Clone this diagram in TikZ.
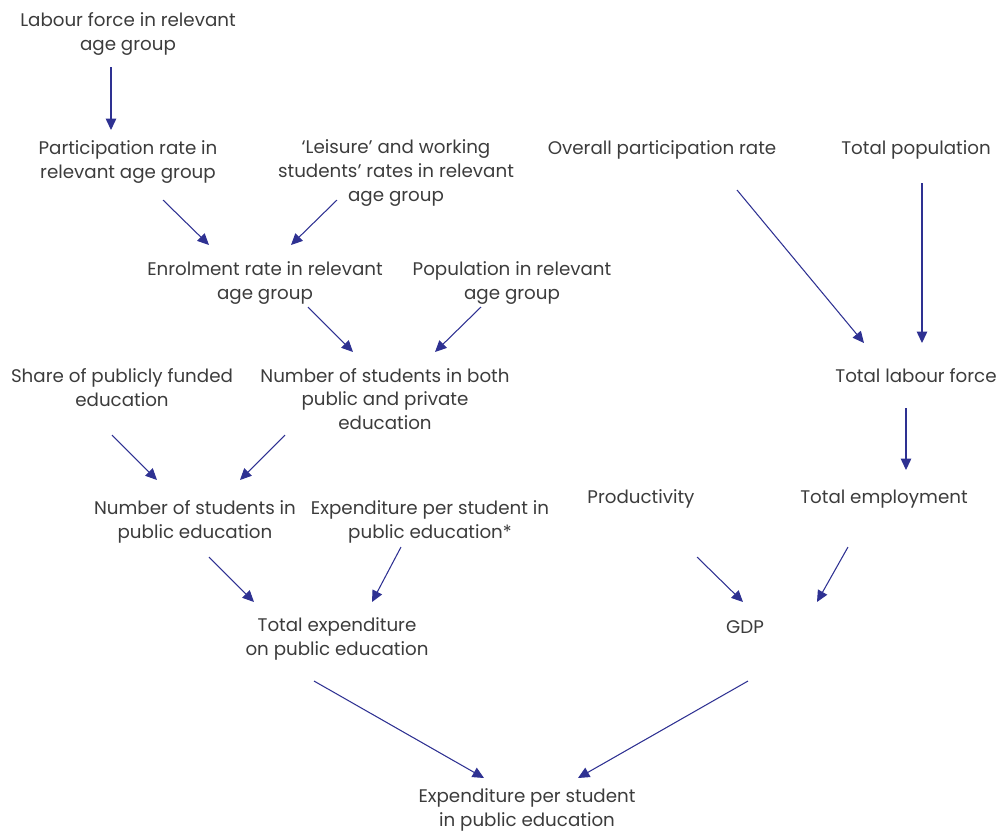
\documentclass[tikz,border=0pt]{standalone}
\usepackage{fontspec}
\setmainfont{Poppins}
\usetikzlibrary{arrows.meta, calc}
\definecolor{arrowblue}{RGB}{46,49,146}
\definecolor{textgray}{RGB}{60,60,60}

\begin{document}
\begin{tikzpicture}[x=0.02cm,y=-0.02cm,
    lbl/.style={align=center, text=textgray, inner sep=0pt,
        font=\fontsize{10.4}{13.6}\selectfont},
    arr/.style={draw=arrowblue, line width=0.6pt,
        -{Triangle[length=6.5pt,width=6pt]}}]
    \useasboundingbox (0,0) rectangle (998,833);

    % top of the enrolment branch
    \node[lbl] (labour) at (128,34) {Labour force in relevant\\age group};
    \node[lbl] (partic) at (128,162) {Participation rate in\\relevant age group};
    \node[lbl] (leisure) at (396,173) {`Leisure' and working\\students' rates in relevant\\age group};
    \node[lbl] (overall) at (662,150) {Overall participation rate};
    \node[lbl] (totpop) at (916,150) {Total population};

    \node[lbl] (enrol) at (265,283) {Enrolment rate in relevant\\age group};
    \node[lbl] (popage) at (512,283) {Population in relevant\\age group};

    \node[lbl] (share) at (122,388) {Share of publicly funded\\education};
    \node[lbl] (nboth) at (385,399) {Number of students in both\\public and private\\education};
    \node[lbl] (totlab) at (916,376) {Total labour force};

    \node[lbl] (npub) at (195,522) {Number of students in\\public education};
    \node[lbl] (exppub) at (430,522) {Expenditure per student in\\public education*};
    \node[lbl] (prod) at (641,499) {Productivity};
    \node[lbl] (totemp) at (884,499) {Total employment};

    \node[lbl] (totexp) at (337,639) {Total expenditure\\on public education};
    \node[lbl] (gdp) at (745,627) {GDP};

    \node[lbl] (result) at (527,810) {Expenditure per student\\in public education};

    % connectors
    \draw[arr] ($(labour)+(-17,33)$) -- ($(partic)+(-17,-32)$);
    \draw[arr] ($(partic)+(35,38)$) -- ($(enrol)+(-56,-38)$);
    \draw[arr] ($(leisure)+(-59,27)$) -- ($(enrol)+(26,-38)$);
    \draw[arr] ($(overall)+(75,40)$) -- ($(totlab)+(-52,-33)$);
    \draw[arr] ($(totpop)+(6,33)$) -- ($(totlab)+(6,-33)$);
    \draw[arr] ($(enrol)+(43,24)$) -- ($(nboth)+(-32,-47)$);
    \draw[arr] ($(popage)+(-31,24)$) -- ($(nboth)+(50,-47)$);
    \draw[arr] ($(totlab)+(-10,32)$) -- ($(totemp)+(22,-29)$);
    \draw[arr] ($(share)+(-10,47)$) -- ($(npub)+(-38,-42)$);
    \draw[arr] ($(nboth)+(-100,36)$) -- ($(npub)+(45,-42)$);
    \draw[arr] ($(npub)+(14,35)$) -- ($(totexp)+(-83,-37)$);
    \draw[arr] ($(exppub)+(-29,25)$) -- ($(totexp)+(35,-37)$);
    \draw[arr] ($(prod)+(56,58)$) -- ($(gdp)+(-2,-25)$);
    \draw[arr] ($(totemp)+(-36,48)$) -- ($(gdp)+(72,-25)$);
    \draw[arr] ($(totexp)+(-23,42)$) -- ($(result)+(-43,-32)$);
    \draw[arr] ($(gdp)+(3,54)$) -- ($(result)+(51,-32)$);
\end{tikzpicture}
\end{document}
